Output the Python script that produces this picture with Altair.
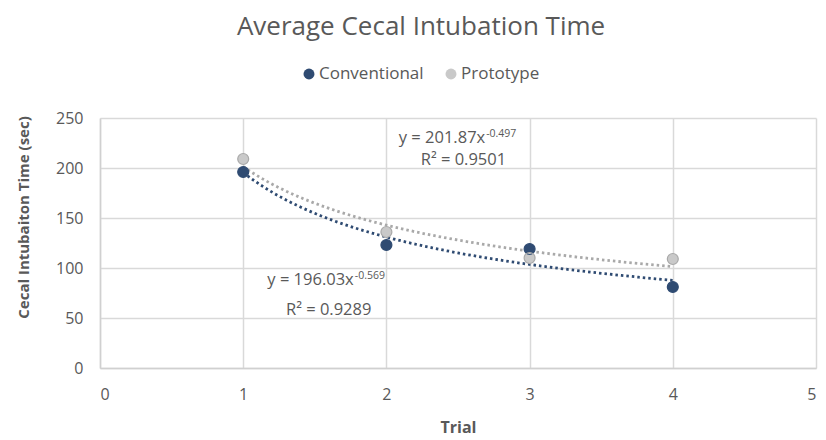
import altair as alt
import pandas as pd

trials = [1, 2, 3, 4]
conventional = [196, 123, 119, 81]
prototype = [209, 136, 110, 109]
series_names = ["Conventional", "Prototype"]

rows = []
for t, v in zip(trials, conventional):
    rows.append({"trial": t, "time": v, "series": "Conventional"})
for t, v in zip(trials, prototype):
    rows.append({"trial": t, "time": v, "series": "Prototype"})
df = pd.DataFrame(rows)
legend_df = pd.DataFrame({"series": series_names})

# trendline equation labels (text, position in data units)
ann_main = pd.DataFrame([
    {"x": 2.69, "y": 225, "text": "y = 201.87x"},
    {"x": 1.772, "y": 83, "text": "y = 196.03x"},
])
ann_sup = pd.DataFrame([
    {"x": 2.69, "y": 231, "text": "-0.497"},
    {"x": 1.772, "y": 89, "text": "-0.569"},
])
ann_r2 = pd.DataFrame([
    {"x": 2.538, "y": 203, "text": "R² = 0.9501"},
    {"x": 1.597, "y": 53, "text": "R² = 0.9289"},
])

FONT = "Open Sans"
TXT = "#595959"
fill_range = ["#2f4b72", "#c9c9c9"]
stroke_range = ["#2f4b72", "#a9a9a9"]

xscale = alt.Scale(domain=[0, 5], nice=False, zero=True)
yscale = alt.Scale(domain=[0, 250], nice=False)
cscale = alt.Scale(domain=series_names, range=fill_range)
sscale = alt.Scale(domain=series_names, range=stroke_range)

x_enc = alt.X("trial:Q", scale=xscale,
              axis=alt.Axis(values=[0, 1, 2, 3, 4, 5], title="Trial", format="d"))
y_enc = alt.Y("time:Q", scale=yscale,
              axis=alt.Axis(values=[0, 50, 100, 150, 200, 250],
                            title="Cecal Intubaiton Time (sec)",
                            titleX=-69, titleY=99))

lines = alt.Chart(df).transform_regression(
    "trial", "time", groupby=["series"], method="pow", extent=[1, 4]
).transform_calculate(edge="datum.series").mark_line(
    strokeDash=[2.5, 3], strokeWidth=2.8).encode(
    x=x_enc, y=y_enc,
    stroke=alt.Stroke("edge:N", scale=sscale, legend=None),
)

points = alt.Chart(df).mark_circle(size=120, opacity=1).encode(
    x=x_enc, y=y_enc,
    color=alt.Color("series:N", scale=cscale, legend=None),
)

rings = alt.Chart(df).transform_calculate(edge="datum.series").mark_point(
    filled=False, size=120, strokeWidth=1.2, opacity=1).encode(
    x=x_enc, y=y_enc,
    stroke=alt.Stroke("edge:N", scale=sscale, legend=None),
)

# legend entries (symbol + label) above the plot
legend_sym_x = [209, 351]
legend_txt_x = [219, 361]
legend_layers = []
for i, name in enumerate(series_names):
    base = alt.Chart(legend_df).transform_filter(alt.datum.series == name)
    legend_layers.append(base.mark_circle(size=120, opacity=1).encode(
        x=alt.value(legend_sym_x[i]), y=alt.value(-44),
        color=alt.Color("series:N", scale=cscale, legend=None)))
    legend_layers.append(base.mark_text(align="left", baseline="middle", fontSize=17,
                                        font=FONT, color=TXT).encode(
        x=alt.value(legend_txt_x[i]), y=alt.value(-44), text="series:N"))

t_main = alt.Chart(ann_main).mark_text(align="right", baseline="alphabetic", fontSize=16.5,
                                       font=FONT, color=TXT).encode(
    x=alt.X("x:Q", scale=xscale), y=alt.Y("y:Q", scale=yscale), text="text:N")
t_sup = alt.Chart(ann_sup).mark_text(align="left", baseline="alphabetic", fontSize=10.5,
                                     font=FONT, color=TXT, dx=1).encode(
    x=alt.X("x:Q", scale=xscale), y=alt.Y("y:Q", scale=yscale), text="text:N")
t_r2 = alt.Chart(ann_r2).mark_text(align="center", baseline="alphabetic", fontSize=16.5,
                                   font=FONT, color=TXT).encode(
    x=alt.X("x:Q", scale=xscale), y=alt.Y("y:Q", scale=yscale), text="text:N")

chart = alt.layer(lines, points, rings, t_main, t_sup, t_r2, *legend_layers).properties(
    width=716, height=250,
    autosize=alt.AutoSizeParams(type="none"),
    padding={"left": 92, "top": 110, "right": 2, "bottom": 70},
    title=alt.Title("Average Cecal Intubation Time", fontSize=26, color=TXT, font=FONT,
                    fontWeight="normal", dx=-37, offset=25),
).configure_view(stroke=None).configure_axis(
    labelFont=FONT, labelFontSize=16, labelColor=TXT,
    titleFont=FONT, titleFontSize=15, titleColor=TXT, titleFontWeight="bold",
    gridColor="#d9d9d9", gridWidth=1.5, domainColor="#d0d0d0", domainWidth=1.5,
    ticks=False,
).configure_axisY(labelPadding=17).configure_axisX(
    labelPadding=18, titlePadding=17, titleFontSize=16)

chart.save("out.html", embed_options={"renderer": "svg", "actions": False})
